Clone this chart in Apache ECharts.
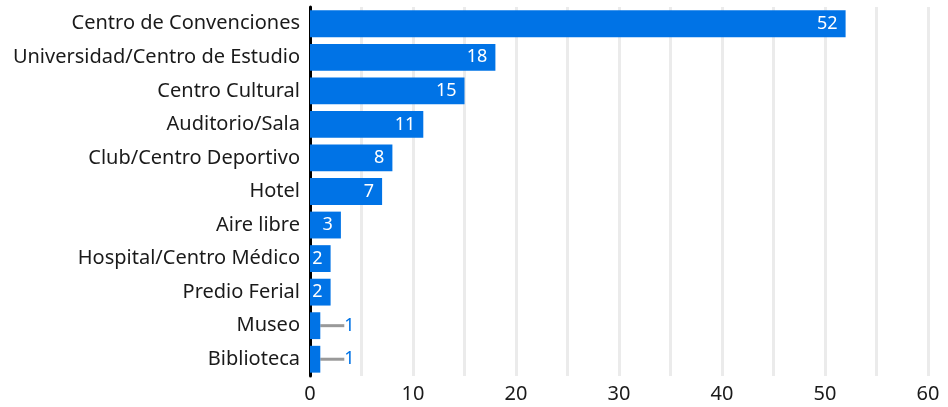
<!DOCTYPE html>
<html>
<head>
<meta charset="utf-8">
<script src="https://cdn.jsdelivr.net/npm/echarts@6/dist/echarts.min.js"></script>
<style>
html,body{margin:0;padding:0;background:#fff;}
#main{width:948px;height:407px;}
</style>
</head>
<body>
<div id="main"></div>
<script>
const categories = ["Centro de Convenciones","Universidad/Centro de Estudio","Centro Cultural","Auditorio/Sala","Club/Centro Deportivo","Hotel","Aire libre","Hospital/Centro Médico","Predio Ferial","Museo","Biblioteca"];
const values = [52,18,15,11,8,7,3,2,2,1,1];
const xTicks = [0,10,20,30,40,50,60];

const BLUE = '#0073e6';
const FONT = 'Noto Sans';

const data = values.map(v => {
  if (v <= 1) {
    return {
      value: v,
      label: { position: 'right', color: BLUE, distance: 2 },
      labelLine: { show: true, lineStyle: { color: '#999', width: 3 } }
    };
  }
  return v;
});

const chart = echarts.init(document.getElementById('main'));
chart.setOption({
  animation: false,
  grid: { left: 310, right: 20, top: 7, bottom: 31, containLabel: false },
  xAxis: {
    type: 'value', min: 0, max: 60, interval: 5,
    axisLine: { show: false }, axisTick: { show: false },
    splitLine: { show: true, lineStyle: { color: '#ebebeb', width: 3 } },
    axisLabel: {
      fontFamily: FONT, fontSize: 20, color: '#1a1a1a', margin: 8,
      formatter: v => xTicks.indexOf(v) >= 0 ? String(v) : ''
    }
  },
  yAxis: {
    type: 'category', data: categories, inverse: true,
    axisLine: { show: true, lineStyle: { color: '#000', width: 3 } },
    axisTick: { show: false },
    axisLabel: { fontFamily: FONT, fontSize: 20, color: '#1a1a1a', margin: 10 }
  },
  series: [{
    type: 'bar',
    data: data,
    barCategoryGap: '20%',
    itemStyle: { color: BLUE },
    label: {
      show: true, position: 'insideRight', distance: 8,
      color: '#fff', fontFamily: FONT, fontSize: 18
    },
    labelLayout: function (p) {
      if (values[p.dataIndex] <= 1) return { dx: 22 };
      return {};
    },
    labelLine: { show: false }
  }]
});
</script>
</body>
</html>
